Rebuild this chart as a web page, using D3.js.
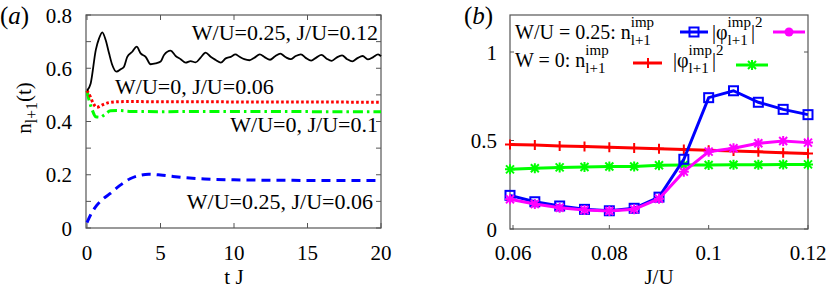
<!DOCTYPE html>
<html>
<head>
<meta charset="utf-8">
<script src="https://cdn.jsdelivr.net/npm/d3@7"></script>
</head>
<body style="margin:0">
<div id="chart"></div>
<script>
// ---- panel (a) data: n_{l+1}(t) vs t J ----
var tBlack = [0, 0.25, 0.6, 0.82, 1.04, 1.27, 1.5, 1.72, 2.0, 2.29, 2.52, 2.74, 3.08, 3.38, 3.65, 3.99,
  4.33, 4.67, 5.01, 5.24, 5.69, 6.03, 6.37, 6.71, 7.05, 7.39, 7.73, 8.07, 8.41, 8.76, 9.1, 9.44, 9.78,
  10.1, 10.35, 10.7, 11.05, 11.4, 11.75, 12.1, 12.45, 12.8, 13.15, 13.5, 13.85, 14.2, 14.55, 14.9,
  15.25, 15.6, 15.95, 16.3, 16.65, 17.0, 17.35, 17.7, 18.05, 18.4, 18.75, 19.1, 19.45, 19.8, 20];
var nBlack = [0.516, 0.543, 0.669, 0.712, 0.735, 0.706, 0.656, 0.612, 0.587, 0.596, 0.606, 0.643, 0.662, 0.681, 0.656, 0.643,
  0.615, 0.618, 0.625, 0.650, 0.666, 0.646, 0.634, 0.621, 0.627, 0.622, 0.640, 0.659, 0.643, 0.631, 0.621, 0.637, 0.643,
  0.652, 0.644, 0.634, 0.630, 0.640, 0.652, 0.641, 0.632, 0.645, 0.655, 0.642, 0.634, 0.646, 0.652, 0.638,
  0.629, 0.640, 0.650, 0.636, 0.628, 0.641, 0.648, 0.634, 0.626, 0.638, 0.646, 0.633, 0.641, 0.652, 0.645];

var tRed = [0, 0.2, 0.43, 0.66, 1.04, 1.5, 2.06, 3, 5, 8, 12, 16, 20];
var nRed = [0.516, 0.496, 0.468, 0.453, 0.462, 0.471, 0.474, 0.475, 0.474, 0.474, 0.473, 0.473, 0.472];

var tGreen = [0, 0.14, 0.36, 0.59, 0.93, 1.16, 1.61, 2.2, 3, 5, 8, 12, 16, 20];
var nGreen = [0.516, 0.48, 0.443, 0.418, 0.416, 0.424, 0.44, 0.441, 0.438, 0.437, 0.438, 0.438, 0.437, 0.437];

var tBlue = [0, 0.3, 0.66, 1.0, 1.56, 2.24, 2.93, 3.6, 4.2, 5, 5.8, 6.5, 8, 10, 14, 20];
var nBlue = [0.02, 0.055, 0.085, 0.105, 0.129, 0.16, 0.185, 0.198, 0.202, 0.199, 0.194, 0.19, 0.184, 0.181, 0.179, 0.178];

// ---- panel (b) data: occupations vs J/U ----
var jU = [0.06, 0.065, 0.07, 0.075, 0.08, 0.085, 0.09, 0.095, 0.1, 0.105, 0.11, 0.115, 0.12];
var nImpDis = [0.19, 0.154, 0.13, 0.111, 0.103, 0.117, 0.18, 0.394, 0.742, 0.781, 0.716, 0.676, 0.646];
var phiDis = [0.168, 0.141, 0.12, 0.107, 0.102, 0.111, 0.171, 0.324, 0.437, 0.456, 0.484, 0.497, 0.488];
var nImpClean = [0.478, 0.474, 0.469, 0.466, 0.462, 0.458, 0.454, 0.449, 0.445, 0.441, 0.436, 0.431, 0.426];
var phiClean = [0.337, 0.343, 0.348, 0.35, 0.353, 0.353, 0.36, 0.362, 0.362, 0.363, 0.363, 0.364, 0.365];

var aYTicks = [0, 0.2, 0.4, 0.6, 0.8];
var aYMinor = [0.1, 0.3, 0.5, 0.7];
var aXTicks = [0, 5, 10, 15, 20];
var bYTicks = [0, 0.5, 1];
var bXTicks = [0.06, 0.08, 0.1, 0.12];

var svgWidth = 830;
var svgHeight = 294;
var frameColor = "#555";
var serifFam = "Liberation Serif";

var svg = d3.select("#chart")
  .append("svg")
  .attr("width", svgWidth)
  .attr("height", svgHeight)
  .attr("font-family", serifFam);

// every text gets the serif family directly
function txt(g) {
  return g.append("text")
    .attr("font-family", serifFam)
    .style("font-family", `'${serifFam}'`)
    .attr("fill", "#000");
}

// draws "base^sup_sub" pieces one after the other
function richText(g, x, y, parts, size, anchor) {
  var grp = g.append("g");
  var cx = 0;
  parts.forEach(function (p) {
    var b = txt(grp).attr("x", cx).attr("y", 0)
      .style("font-size", size + "px").text(p[0]);
    cx += b.node().getComputedTextLength();
    var w = 0;
    if (p[1]) {
      var s = txt(grp).attr("x", cx).attr("y", -size * 0.6)
        .style("font-size", (size * 0.75) + "px").text(p[1]);
      w = Math.max(w, s.node().getComputedTextLength());
    }
    if (p[2]) {
      var u = txt(grp).attr("x", cx).attr("y", size * 0.3)
        .style("font-size", (size * 0.75) + "px").text(p[2]);
      w = Math.max(w, u.node().getComputedTextLength());
    }
    cx += w;
  });
  var shift = anchor === "end" ? -cx : anchor === "middle" ? -cx / 2 : 0;
  grp.attr("transform", `translate(${x + shift},${y})`);
  return grp;
}

// ================= panel (a) =================
var ax = d3.scaleLinear().domain([0, 20]).range([87, 381]);
var ay = d3.scaleLinear().domain([0, 0.8]).range([228, 15]);

var gA = svg.append("g");

// frame
gA.append("rect")
  .attr("x", 86).attr("y", 15)
  .attr("width", 381 - 86).attr("height", 228 - 15)
  .attr("fill", "none").attr("stroke", frameColor).attr("stroke-width", 1.2);

// inward ticks (left/right/bottom/top)
aYTicks.concat(aYMinor).forEach(function (v) {
  gA.append("line").attr("x1", 86).attr("x2", 91).attr("y1", ay(v)).attr("y2", ay(v))
    .attr("stroke", frameColor);
  gA.append("line").attr("x1", 376).attr("x2", 381).attr("y1", ay(v)).attr("y2", ay(v))
    .attr("stroke", frameColor);
});
aXTicks.forEach(function (v) {
  gA.append("line").attr("x1", ax(v)).attr("x2", ax(v)).attr("y1", 228).attr("y2", 223)
    .attr("stroke", frameColor);
  gA.append("line").attr("x1", ax(v)).attr("x2", ax(v)).attr("y1", 15).attr("y2", 20)
    .attr("stroke", frameColor);
});

// tick labels
aYTicks.forEach(function (d) {
  txt(gA).attr("x", 72).attr("y", ay(d) + 7.5)
    .attr("text-anchor", "end").style("font-size", "21px")
    .text(d === 0 ? "0" : d3.format(".1f")(d));
});
aXTicks.forEach(function (d) {
  txt(gA).attr("x", ax(d)).attr("y", 260)
    .attr("text-anchor", "middle").style("font-size", "21px")
    .text(d);
});

// axis titles
txt(gA).attr("x", 234).attr("y", 284)
  .attr("text-anchor", "middle").style("font-size", "21px").text("t J");
var yt = richText(gA, 0, 0, [["n", "", "l+1"], ["(t)", "", ""]], 21, "start");
var ytW = yt.node().getBBox().width;
yt.attr("transform", `translate(31,${108 + ytW / 2}) rotate(-90)`);

// panel tag
var tagA = txt(gA).attr("x", 0).attr("y", 24).style("font-size", "25px");
tagA.append("tspan").text("(");
tagA.append("tspan").attr("font-style", "italic").text("a");
tagA.append("tspan").text(")");

// lines
var lineA = d3.line().x(d => ax(d[0])).y(d => ay(d[1])).curve(d3.curveMonotoneX);
function pairs(xs, ys) { return xs.map((x, i) => [x, ys[i]]); }

gA.append("path").datum(pairs(tBlue, nBlue)).attr("d", lineA)
  .attr("fill", "none").attr("stroke", "#0000ff").attr("stroke-width", 3)
  .attr("stroke-dasharray", "9,6");
gA.append("path").datum(pairs(tGreen, nGreen)).attr("d", lineA)
  .attr("fill", "none").attr("stroke", "#00ff00").attr("stroke-width", 3)
  .attr("stroke-dasharray", "10,4,2.5,4");
gA.append("path").datum(pairs(tRed, nRed)).attr("d", lineA)
  .attr("fill", "none").attr("stroke", "#ff0000").attr("stroke-width", 3)
  .attr("stroke-dasharray", "2.6,2.4");
gA.append("path").datum(pairs(tBlack, nBlack)).attr("d", lineA)
  .attr("fill", "none").attr("stroke", "#000").attr("stroke-width", 1.8);

// curve annotations
var annA = [
  { t: "W/U=0.25, J/U=0.12", x: 378, y: 40, a: "end" },
  { t: "W/U=0, J/U=0.06", x: 115, y: 94, a: "start" },
  { t: "W/U=0, J/U=0.1", x: 378, y: 132, a: "end" },
  { t: "W/U=0.25, J/U=0.06", x: 373, y: 209, a: "end" }
];
annA.forEach(function (d) {
  txt(gA).attr("x", d.x).attr("y", d.y)
    .attr("text-anchor", d.a).style("font-size", "22px")
    .text(d.t);
});

// ================= panel (b) =================
var bx = d3.scaleLinear().domain([0.06, 0.12]).range([510, 808]);
var by = d3.scaleLinear().domain([0, 1]).range([229, 52]);

var gB = svg.append("g");

gB.append("rect")
  .attr("x", 510).attr("y", 15)
  .attr("width", 808 - 510).attr("height", 229 - 15)
  .attr("fill", "none").attr("stroke", frameColor).attr("stroke-width", 1.2);

bYTicks.forEach(function (v) {
  gB.append("line").attr("x1", 510).attr("x2", 514).attr("y1", by(v)).attr("y2", by(v))
    .attr("stroke", frameColor);
  gB.append("line").attr("x1", 804).attr("x2", 808).attr("y1", by(v)).attr("y2", by(v))
    .attr("stroke", frameColor);
});
bXTicks.forEach(function (v) {
  gB.append("line").attr("x1", bx(v) + (v === 0.06 ? 3 : 0)).attr("x2", bx(v) + (v === 0.06 ? 3 : 0))
    .attr("y1", 229).attr("y2", 225).attr("stroke", frameColor);
});

bYTicks.forEach(function (d) {
  txt(gB).attr("x", 497).attr("y", by(d) + 7.5)
    .attr("text-anchor", "end").style("font-size", "21px")
    .text(d);
});
bXTicks.forEach(function (d) {
  txt(gB).attr("x", bx(d) + (d === 0.06 ? 3 : 0)).attr("y", 260)
    .attr("text-anchor", "middle").style("font-size", "21px")
    .text(d);
});

txt(gB).attr("x", 659).attr("y", 284)
  .attr("text-anchor", "middle").style("font-size", "21px").text("J/U");

var tagB = txt(gB).attr("x", 464).attr("y", 24).style("font-size", "25px");
tagB.append("tspan").text("(");
tagB.append("tspan").attr("font-style", "italic").text("b");
tagB.append("tspan").text(")");

// marker shapes
function square(g, x, y, c) {
  g.append("rect").attr("x", x - 4.5).attr("y", y - 4.5).attr("width", 9).attr("height", 9)
    .attr("fill", "none").attr("stroke", c).attr("stroke-width", 2);
}
function plus(g, x, y, c) {
  g.append("path").attr("d", `M${x - 5},${y}H${x + 5}M${x},${y - 5}V${y + 5}`)
    .attr("stroke", c).attr("stroke-width", 2);
}
function star(g, x, y, c) {
  g.append("path")
    .attr("d", `M${x - 5},${y}H${x + 5}M${x},${y - 5}V${y + 5}M${x - 4},${y - 4}L${x + 4},${y + 4}M${x - 4},${y + 4}L${x + 4},${y - 4}`)
    .attr("stroke", c).attr("stroke-width", 2);
}
function dot(g, x, y, c) {
  g.append("circle").attr("cx", x).attr("cy", y).attr("r", 4.5).attr("fill", c);
}

var seriesB = [
  { v: nImpClean, c: "#ff0000", m: plus },
  { v: phiClean, c: "#00ff00", m: star },
  { v: nImpDis, c: "#0000ff", m: square },
  { v: phiDis, c: "#ff00ff", m: star }
];
var lineB = d3.line().x(d => bx(d[0])).y(d => by(d[1]));
seriesB.forEach(function (s) {
  gB.append("path").datum(pairs(jU, s.v)).attr("d", lineB)
    .attr("fill", "none").attr("stroke", s.c).attr("stroke-width", 3);
  var mg = gB.append("g");
  jU.forEach(function (j, i) { s.m(mg, bx(j), by(s.v[i]), s.c); });
});

// legend
var leg = gB.append("g");
richText(leg, 515, 39, [["W/U = 0.25: n", "imp", "l+1"]], 20, "start");
leg.append("line").attr("x1", 680).attr("x2", 708).attr("y1", 32).attr("y2", 32)
  .attr("stroke", "#0000ff").attr("stroke-width", 3);
square(leg, 694, 32, "#0000ff");
richText(leg, 712, 39, [["|φ", "imp", "l+1"], ["|", "2", ""]], 20, "start");
leg.append("line").attr("x1", 773).attr("x2", 805).attr("y1", 32).attr("y2", 32)
  .attr("stroke", "#ff00ff").attr("stroke-width", 3);
dot(leg, 789, 32, "#ff00ff");

richText(leg, 515, 67, [["W = 0: n", "imp", "l+1"]], 20, "start");
leg.append("line").attr("x1", 633).attr("x2", 662).attr("y1", 63).attr("y2", 63)
  .attr("stroke", "#ff0000").attr("stroke-width", 3);
plus(leg, 648, 63, "#ff0000");
richText(leg, 673, 67, [["|φ", "imp", "l+1"], ["|", "2", ""]], 20, "start");
leg.append("line").attr("x1", 736).attr("x2", 768).attr("y1", 65).attr("y2", 65)
  .attr("stroke", "#00ff00").attr("stroke-width", 3);
star(leg, 752, 65, "#00ff00");
</script>
</body>
</html>
